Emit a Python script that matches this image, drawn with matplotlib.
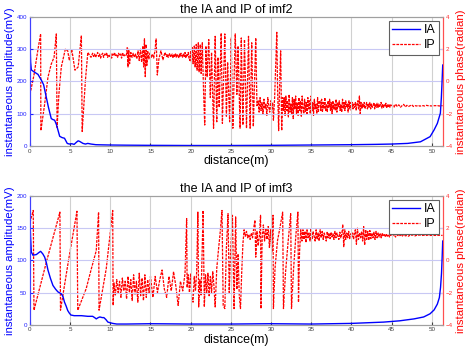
import numpy as np
import matplotlib.pyplot as plt

plt.rcParams['font.family'] = ['Liberation Sans', 'DejaVu Sans']

x_max = 51.4  # distance range (m)

# ---------------- imf2 ----------------
# instantaneous amplitude (mV)
ia2_x = [0, 0.08, 0.17, 0.5, 1.0, 1.4, 1.7, 2.0, 2.3, 2.65, 2.85, 3.07, 3.3, 3.5, 3.7, 4.0, 4.3, 4.64, 4.9, 5.2,
         5.5, 5.8, 6.0, 6.2, 6.6, 6.9, 7.2, 7.6, 8.2, 9, 10, 12, 15, 20, 25, 30, 35, 40, 43, 45,
         47, 48.6, 49.8, 50.3, 50.7, 51.08, 51.2, 51.28, 51.37]
ia2_y = [327, 260, 236, 230, 222, 205, 190, 155, 120, 85, 82, 80, 66, 48, 30, 26, 24, 8, 6, 7,
         5, 12, 16, 14, 8, 6, 8, 6, 4, 3.5, 3, 2.5, 2, 1.5, 1.5, 2, 3, 4, 5, 6,
         8, 13, 29, 50, 70, 102, 150, 195, 251]

# instantaneous phase (radian), pieces
ip2_head_x = [0, 0.5, 1.0, 1.33, 1.36, 1.83, 2.24, 2.65, 3.0, 3.28, 3.38, 3.6, 3.9, 4.4, 4.7, 4.9, 5.2, 5.6, 6.0, 6.4,
              6.5, 6.9, 7.2, 7.6]
ip2_head_y = [-0.8, 0.4, 2.0, 2.95, -3.05, -1.4, 0.26, 1.08, 1.5, 2.95, -2.85, -0.8, 0.9, 2.0, 1.9, 1.3, 2.0, 0.7, 0.9, 2.85,
              -3.1, 0.05, 1.8, 1.5]
ip2_flat1 = [1.75, 1.55, 1.7, 1.5, 1.65, 1.8, 1.55, 1.7, 1.45, 1.65, 1.75, 1.5, 1.7, 1.6, 1.8, 1.5, 1.65, 1.55,
             1.75, 1.45, 1.7, 1.6, 1.8, 1.55, 1.65, 1.5, 1.75, 1.6, 1.7, 1.45, 1.8, 1.55, 1.65, 1.6]  # 7.8 - 11.9
ip2_mid_x = [12.0, 12.1, 12.2, 12.3, 12.4, 12.55, 12.7, 12.85, 13.0, 13.15, 13.3, 13.45, 13.6, 13.75, 13.9, 14.05,
             14.15, 14.25, 14.35, 14.45, 14.55, 14.65, 14.8, 14.95, 15.1, 15.25, 15.4, 15.55, 15.7, 15.85, 16.05,
             16.3, 16.55, 16.8]
ip2_mid_y = [1.6, 2.1, 0.9, 2.0, 1.1, 1.8, 1.5, 1.75, 1.5, 1.7, 1.4, 1.9, 1.3, 2.0, 1.2, 2.2,
             0.9, 2.65, 0.3, 2.3, 1.0, 1.9, 1.4, 1.8, 1.5, 1.7, 1.45, 1.9, 2.64, 0.4, 1.4,
             1.9, 1.35, 1.8]
ip2_flat2 = [1.55, 1.7, 1.5, 1.65, 1.75, 1.5, 1.6, 1.7, 1.45, 1.65, 1.55, 1.75, 1.5, 1.7, 1.6, 1.45, 1.7,
             1.55, 1.75, 1.6, 1.5, 1.7, 1.55, 1.8, 1.45, 1.7, 1.6, 1.8, 1.4]  # 17.0 - 19.8
ip2_burst_x = [19.9, 20.0, 20.1, 20.2, 20.3, 20.45, 20.55, 20.7, 20.8, 20.95, 21.05, 21.2, 21.3, 21.45, 21.6,
               21.75, 21.9, 22.05, 22.25, 22.45, 22.6, 22.85, 23.05, 23.25, 23.4, 23.55, 23.8, 23.95, 24.25,
               24.45, 24.6, 24.85, 25.05, 25.25, 25.55, 25.75, 25.9, 26.15, 26.3, 26.5, 26.7, 26.95, 27.2,
               27.4, 27.6, 27.8, 28.1, 28.25]
ip2_burst_y = [1.3, 1.9, 1.2, 2.1, 1.1, 2.2, 0.9, 2.3, 0.7, 2.4, 0.6, 2.3, 0.5, 2.4, -0.5,
               -2.7, 2.2, 0.3, 2.6, -1.0, 1.8, -2.9, 2.8, -2.5, 1.5, -1.6, 3.0, -2.6, 2.95,
               -2.2, 1.2, -2.5, 2.7, -2.9, 2.95, -0.8, 2.2, -2.9, 2.7, -2.7, 2.6, -2.9, 2.8,
               -2.9, 2.4, -2.8, 2.7, -1.5]
ip2_n1 = [-1.2, -1.9, -1.0, -1.8, -1.3, -2.0, -1.1, -1.7, -1.4, -2.1, -1.0, -1.6, -1.9, -1.2, -1.8, -1.3]  # 28.4 - 30.2
ip2_spk_x = [30.3, 30.45, 30.6, 30.72, 30.82, 30.95, 31.08, 31.2, 31.33, 31.45, 31.55]
ip2_spk_y = [-2.4, -1.0, 1.2, 3.05, -0.5, -3.05, 0.0, 1.9, -3.05, -1.0, -1.8]
ip2_n2 = [-1.0, -2.1, -0.9, -1.8, -1.2, -2.2, -0.8, -1.9, -1.4, -2.0, -1.0, -2.3, -1.1, -1.7, -0.9, -2.0,
          -1.3, -2.1, -1.0, -1.8, -1.2, -2.2, -0.9, -1.6, -2.0, -1.1, -1.9, -1.3, -2.1, -1.0, -1.7, -1.2,
          -2.0, -0.9, -1.8, -1.3, -2.1, -1.1, -1.7, -1.4, -2.0, -1.0, -1.9, -1.2]  # 31.65 - 36.0
ip2_n3 = [-1.2, -1.8, -1.1, -1.9, -1.3, -1.7, -1.0, -1.8, -1.4, -1.9, -1.2, -1.6, -1.1, -1.8, -1.3, -2.0,
          -1.2, -1.7, -1.4, -1.8, -1.1, -1.9, -1.3, -1.6, -1.2, -1.8, -1.4, -1.9, -1.1, -1.7, -1.3, -1.8,
          -1.2, -1.6, -1.4, -1.9, -1.2, -1.7, -1.3, -1.8]  # 36.1 - 40.0
ip2_n4 = [-1.3, -1.7, -1.4, -1.6, -1.3, -1.8, -1.4, -1.2, -1.7, -0.9, -2.0, -1.3, -1.7, -1.4, -1.6, -1.3,
          -1.7, -1.5, -1.3, -1.7, -1.4, -1.6, -1.3, -1.7, -1.4, -1.6, -1.5, -1.3, -1.7, -1.4, -1.6, -1.35,
          -1.65, -1.4, -1.6, -1.45, -1.3, -1.65, -1.4, -1.6, -1.45, -1.55, -1.35, -1.65, -1.45, -1.55,
          -1.4, -1.6, -1.45, -1.55]  # 40.1 - 45.0
ip2_tail = [-1.45, -1.6, -1.4, -1.55, -1.45, -1.6, -1.5, -1.42, -1.58, -1.48, -1.55, -1.5, -1.45, -1.55,
            -1.5, -1.52, -1.48, -1.53, -1.5, -1.5, -1.52, -1.48, -1.5, -1.5, -1.52, -1.5, -1.5, -1.5,
            -1.5, -1.52, -1.5, -1.5]  # 45.1 - 51.35

# ---------------- imf3 ----------------
ia3_x = [0, 0.08, 0.17, 0.37, 0.8, 1.1, 1.33, 1.6, 1.83, 2.05, 2.24, 2.55, 2.86, 3.2, 3.48, 3.9, 4.1, 4.3, 4.5, 4.7,
         4.9, 5.1, 5.5, 6.4, 7.2, 7.8, 8.05, 8.25, 8.5, 8.7, 9.0, 9.2, 9.45, 9.7, 10.0, 10.3, 10.8, 12, 15, 20,
         25, 30, 35, 40, 44, 46, 47.8, 49.0, 49.8, 50.3, 50.7, 50.95, 51.1, 51.22, 51.3, 51.37]
ia3_y = [162, 135, 113, 108, 109, 112, 114, 110, 105, 96, 85, 72, 61, 55, 51, 48, 44, 35, 29, 22,
         18, 15, 14, 14, 13, 13, 11, 9, 11, 12, 11, 11, 8, 4, 3, 2, 1, 1, 1.5, 1,
         1, 1.5, 1, 2, 4, 6, 9, 12, 17, 23, 32, 42, 58, 80, 105, 130]

ip3_head_x = [0, 0.41, 0.5, 2.1, 3.73, 3.8, 4.8, 5.85, 5.95, 7.0, 7.6, 8.25, 8.54, 8.6, 9.5, 10.3, 10.35]
ip3_head_y = [2.36, 3.1, -3.1, 0.0, 3.0, -3.1, 0.0, 3.05, -3.1, -1.76, -0.6, 0.6, 3.0, -3.1, -0.5, 3.1, -2.8]
ip3_n1 = [-1.4, -2.2, -1.2, -2.0, -1.3, -2.3, -1.1, -1.9, -1.3, -2.4, -1.0, -2.0, -1.2, -2.5, -0.9, -2.1,
          -1.3, -2.6, -0.8, -2.2, -1.1, -2.5, -0.9, -2.3, -1.2, -2.0, -1.0]  # 10.45 - 15.0
ip3_n2 = [-2.3, -1.0, -2.0, -1.2, -0.6, -1.8, -2.3, -1.0, -1.9, -0.7, -1.6, -2.8, -1.3, -1.9, -0.8]  # 15.3 - 19.3
ip3_burst_x = [19.5, 19.56, 19.7, 19.85, 20.0, 20.15, 20.3, 20.45, 20.6, 20.75, 20.9, 21.0, 21.15, 21.3, 21.55,
               21.7, 21.85, 22.0, 22.15, 22.3, 22.45, 22.6, 22.75, 22.9, 23.05, 23.25, 23.45, 23.65, 23.9,
               24.05, 24.25, 24.45, 24.65, 24.8, 24.95, 25.2, 25.4, 25.6, 25.75, 25.9, 26.05, 26.2, 26.35,
               26.5, 26.65]
ip3_burst_y = [2.6, -1.7, -0.9, -2.0, -0.8, -2.3, -2.6, -1.0, -1.9, -0.7, 3.0, -2.9, -1.2, -2.2, 3.1,
               -2.9, -0.9, -2.0, -0.8, -2.2, -1.0, -2.0, -0.7, -1.6, -2.9, -0.5, 0.6, 1.6, 3.1,
               -2.8, -3.0, 0.8, 2.9, -2.0, 0.3, 2.8, -3.0, 2.7, -1.8, 0.4, -2.2, -3.0, -0.8,
               1.0, 1.9]
ip3_mid_x = [26.8, 26.95, 27.1, 27.25, 27.4, 27.55, 27.7, 27.85, 28.0, 28.1, 28.25, 28.4, 28.55, 28.7, 28.75,
             28.9, 29.05, 29.2, 29.35, 29.5, 29.65, 29.8, 29.95, 30.1, 30.25, 30.3, 30.5, 30.8, 31.1, 31.45,
             31.55, 31.8, 32.1, 32.45, 32.55, 32.8, 33.1, 33.35, 33.42, 33.55, 33.7]
ip3_mid_y = [1.5, 1.8, 1.4, 1.6, 1.3, 1.7, 1.4, 2.0, 2.5, 0.2, 1.8, 0.9, 1.5, 2.8, -3.0,
             1.4, 2.2, 1.2, 2.0, 1.3, 2.1, 0.8, 1.9, 0.5, 2.8, -3.0, -0.5, 1.2, 2.0, 3.0,
             -3.0, -0.8, 1.0, 2.9, -3.0, -0.6, 1.6, 3.0, -2.6, 0.5, 1.9]
ip3_n3 = [1.2, 1.9, 1.3, 1.8, 1.1, 1.9, 1.4, 1.7, 1.2, 2.0, 1.3, 1.8, 1.5, 1.2, 1.9, 1.3, 1.7, 1.2, 1.9,
          1.4, 1.8, 1.3, 1.7, 1.5, 1.2, 1.8]  # 33.85 - 37.0
ip3_n4 = [1.4, 1.7, 1.35, 1.75, 1.45, 1.65, 1.3, 1.8, 1.4, 1.7, 1.5, 1.3, 1.75, 1.4, 1.65, 2.2, 0.85,
          1.9, 1.3, 1.7, 1.4, 1.8, 1.35, 1.65, 1.45, 1.7, 1.3, 1.75]  # 37.1 - 40.4
ip3_n5 = [1.9, 1.0, 2.0, 1.3, 1.7, 1.4, 1.8, 1.2, 2.1, 0.95, 1.9, 1.3, 1.8, 1.25, 1.85, 1.35, 1.7, 1.4,
          1.75, 1.3, 1.8, 1.4, 1.7, 1.45, 1.65, 1.4, 1.7, 1.5, 1.6, 1.45, 1.65, 1.5, 1.6, 1.45, 1.6, 1.5]  # 40.5 - 45.0
ip3_tail = [1.5, 1.62, 1.45, 1.6, 1.5, 1.58, 1.48, 1.62, 1.52, 1.55, 1.5, 1.58, 1.55, 1.6, 1.52, 1.56,
            1.55, 1.58, 1.54, 1.56, 1.55, 1.55, 1.57, 1.55, 1.55, 1.56, 1.55, 1.55, 1.55, 1.56, 1.55, 1.55]  # 45.1 - 51.35


def join(pieces):
    # pieces: (x list, y list) or (start, end, y list) spread evenly
    xs, ys = [], []
    for p in pieces:
        if len(p) == 2:
            xs += list(p[0])
            ys += list(p[1])
        else:
            xs += list(np.linspace(p[0], p[1], len(p[2])))
            ys += list(p[2])
    return xs, ys


ip2_x, ip2_y = join([(ip2_head_x, ip2_head_y), (7.8, 11.9, ip2_flat1), (ip2_mid_x, ip2_mid_y),
                     (17.0, 19.8, ip2_flat2), (ip2_burst_x, ip2_burst_y), (28.4, 30.2, ip2_n1),
                     (ip2_spk_x, ip2_spk_y), (31.65, 36.0, ip2_n2), (36.1, 40.0, ip2_n3),
                     (40.1, 45.0, ip2_n4), (45.1, 51.35, ip2_tail)])
ip3_x, ip3_y = join([(ip3_head_x, ip3_head_y), (10.45, 15.0, ip3_n1), (15.3, 19.3, ip3_n2),
                     (ip3_burst_x, ip3_burst_y), (ip3_mid_x, ip3_mid_y), (33.85, 37.0, ip3_n3),
                     (37.1, 40.4, ip3_n4), (40.5, 45.0, ip3_n5), (45.1, 51.35, ip3_tail)])

panels = [
    ('the IA and IP of imf2', ia2_x, ia2_y, ip2_x, ip2_y, 400, 100, [0.064, 0.5805, 0.8825, 0.3707]),
    ('the IA and IP of imf3', ia3_x, ia3_y, ip3_x, ip3_y, 200, 50, [0.064, 0.067, 0.8825, 0.3698]),
]

fig = plt.figure(figsize=(4.68, 3.48), dpi=100)
fig.patch.set_facecolor('white')

for title, iax, iay, ipx, ipy, ytop, ystep, pos in panels:
    ax1 = fig.add_axes(pos)
    ax2 = ax1.twinx()
    ax1.set_zorder(ax2.get_zorder() + 1)
    ax1.patch.set_visible(False)

    # grid: gray verticals, bluish horizontals
    for xv in range(5, 55, 5):
        ax1.axvline(xv, color='#d0d0d0', lw=0.8, zorder=0)
    for yv in range(ystep, ytop, ystep):
        ax1.axhline(yv, color='#c8c8f4', lw=0.8, zorder=0)

    l2, = ax2.plot(ipx, ipy, color='red', lw=0.9, ls=(0, (2.2, 0.9)), label='IP')
    l1, = ax1.plot(iax, iay, color='#0000ff', lw=1.0, label='IA')

    ax1.set_xlim(0, x_max)
    ax1.set_ylim(0, ytop)
    ax2.set_ylim(-4, 4)
    ax1.set_xticks(range(0, 55, 5))
    ax1.set_yticks(range(0, ytop + 1, ystep))
    ax2.set_yticks([-4, -2, 0, 2, 4])

    ax1.tick_params(axis='x', labelsize=4.5, colors='#404040', length=2, direction='in', pad=2)
    ax1.tick_params(axis='y', labelsize=4.5, colors='#2020ff', length=2, direction='in', pad=2)
    ax2.tick_params(axis='y', labelsize=4.5, colors='#ff3030', length=2, direction='in', pad=2)
    for a in (ax1, ax2):
        a.spines['top'].set_color('#a0a0a0')
        a.spines['bottom'].set_color('#a0a0a0')
        a.spines['left'].set_color('#4040ff')
        a.spines['right'].set_color('#ff5050')
        for s in a.spines.values():
            s.set_linewidth(0.8)

    ax1.set_ylabel('instantaneous amplitude(mV)', color='#0000ff', fontsize=8.2, labelpad=1.5)
    ax2.set_ylabel('instantaneous phase(radian)', color='red', fontsize=8.2, labelpad=2)
    ax1.set_xlabel('distance(m)', fontsize=9, labelpad=1)
    ax1.set_title(title, fontsize=9, pad=3)

    leg = ax1.legend([l1, l2], ['IA', 'IP'], loc='upper right', fontsize=9, handlelength=2.2,
                     borderpad=0.3, labelspacing=0.2, handletextpad=0.3, fancybox=False,
                     framealpha=1, edgecolor='#606060', borderaxespad=0.3)
    leg.get_frame().set_linewidth(0.8)

fig.savefig('out.png', dpi=100, facecolor='white')
